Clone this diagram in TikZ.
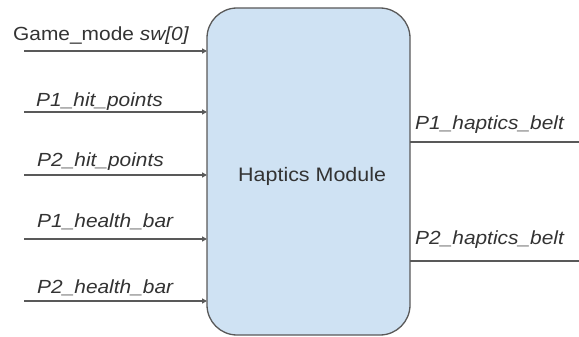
\documentclass[tikz,border=0pt]{standalone}
\usepackage{fontspec}
\setmainfont[FakeStretch=1.1]{Liberation Sans}
\usetikzlibrary{arrows.meta}
\definecolor{modfill}{HTML}{CFE2F3}
\definecolor{linegray}{HTML}{595959}
\definecolor{txtgray}{HTML}{333333}
\begin{document}
\begin{tikzpicture}[x=1pt,y=-1pt,
  sig/.style={draw=linegray,line width=1.3pt,-{Triangle[length=5pt,width=5pt]}},
  outsig/.style={draw=linegray,line width=1.2pt},
  lbl/.style={anchor=base west,inner sep=0pt,text=txtgray,font=\fontsize{19}{21}\selectfont\itshape},
  modbox/.style={draw=linegray,line width=1.3pt,fill=modfill,rounded corners=30pt}]
\useasboundingbox (0,0) rectangle (579,337);
% the module block
\draw[modbox] (207,8) rectangle (410,335);
\node[anchor=base west,inner sep=0pt,text=txtgray,font=\fontsize{19.5}{22}\selectfont] (mod) at (238,182) {Haptics Module};
% input ports on the left edge
\foreach \n/\y in {a/51,b/112,c/175,d/239,e/301}{
  \coordinate (s\n) at (24,\y);
  \coordinate (t\n) at (207,\y);
}
\draw[sig] (sa) -- (ta);
\draw[sig] (sb) -- (tb);
\draw[sig] (sc) -- (tc);
\draw[sig] (sd) -- (td);
\draw[sig] (se) -- (te);
\node[lbl,font=\fontsize{19}{21}\selectfont] (la) at (13,41) {Game\_mode \textit{sw[0]}};
\node[lbl] (lb) at (36,106.5) {P1\_hit\_points};
\node[lbl] (lc) at (37,166.5) {P2\_hit\_points};
\node[lbl] (ld) at (37,227) {P1\_health\_bar};
\node[lbl] (le) at (37,293) {P2\_health\_bar};
% output ports on the right edge
\coordinate (o1s) at (410,142);
\coordinate (o1e) at (579,142);
\coordinate (o2s) at (410,261);
\coordinate (o2e) at (579,261);
\draw[outsig] (o1s) -- (o1e);
\draw[outsig] (o2s) -- (o2e);
\node[lbl] (lo1) at (415,129) {P1\_haptics\_belt};
\node[lbl] (lo2) at (415,244) {P2\_haptics\_belt};
\end{tikzpicture}
\end{document}
